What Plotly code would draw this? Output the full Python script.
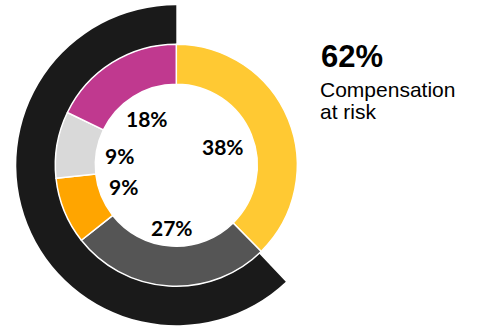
import math
import plotly.graph_objects as go

# Pay mix (inner ring, clockwise from 12 o'clock)
components = ["Base salary", "Annual incentive", "Long-term cash", "Benefits", "Equity"]
shares = [38, 27, 9, 9, 18]
share_labels = ["38%", "27%", "9%", "9%", "18%"]
ring_colors = ["#FFC933", "#555555", "#FFA500", "#D9D9D9", "#C0398F"]

# Compensation at risk (outer arc, ends at 12 o'clock going clockwise)
risk_names = ["Fixed", "At risk"]
risk_values = [38, 62]
risk_colors = ["rgba(0,0,0,0)", "#1A1A1A"]

headline = "62%"
caption_lines = ["Compensation", "at risk"]

W, H = 478, 326
cx, cy = 176.3, 165.2          # chart centre in pixels (from top-left)
r_outer, r_ring, r_hole = 160, 121, 81


def domain(r):
    return dict(
        x=[(cx - r) / W, (cx + r) / W],
        y=[(H - cy - r) / H, (H - cy + r) / H],
    )


fig = go.Figure()

fig.add_trace(go.Pie(
    labels=risk_names, values=risk_values, sort=False,
    direction="clockwise", rotation=0,
    hole=r_ring / r_outer, domain=domain(r_outer),
    marker=dict(colors=risk_colors, line=dict(width=0)),
    textinfo="none", hoverinfo="skip",
))

fig.add_trace(go.Pie(
    labels=components, values=shares, sort=False,
    direction="clockwise", rotation=0,
    hole=r_hole / r_ring, domain=domain(r_ring),
    marker=dict(colors=ring_colors, line=dict(color="white", width=1.5)),
    textinfo="none", hoverinfo="skip",
))

# Percent labels inside the hole, tucked against the inner edge of each slice
label_font = 21
total = sum(shares)
cum = 0.0
annotations = []
for val, txt in zip(shares, share_labels):
    mid = (cum + val / 2) / total * 2 * math.pi
    cum += val
    sx, sy = math.sin(mid), -math.cos(mid)
    w = 0.64 * label_font * len(txt)
    h = 0.75 * label_font
    r = 72 - (w / 2 * abs(sx) + h / 2 * abs(sy))
    px, py = cx + r * sx, cy + r * sy
    annotations.append(dict(
        x=px / W, y=1 - py / H, xref="paper", yref="paper",
        text=f"<b>{txt}</b>", showarrow=False,
        xanchor="center", yanchor="middle",
        font=dict(family="Lato", size=label_font, color="#000000"),
    ))

annotations.append(dict(
    x=319 / W, y=1 - 56 / H, xref="paper", yref="paper",
    text=f"<b>{headline}</b>", showarrow=False,
    xanchor="left", yanchor="middle",
    font=dict(family="Liberation Sans", size=31, color="#000000"),
))
for i, line in enumerate(caption_lines):
    annotations.append(dict(
        x=318 / W, y=1 - (89 + 22 * i) / H, xref="paper", yref="paper",
        text=line, showarrow=False,
        xanchor="left", yanchor="middle",
        font=dict(family="Liberation Sans", size=21, color="#000000"),
    ))

fig.update_layout(
    width=W, height=H,
    margin=dict(l=0, r=0, t=0, b=0),
    paper_bgcolor="white", plot_bgcolor="white",
    showlegend=False,
    annotations=annotations,
)

fig.write_html("out.html")
